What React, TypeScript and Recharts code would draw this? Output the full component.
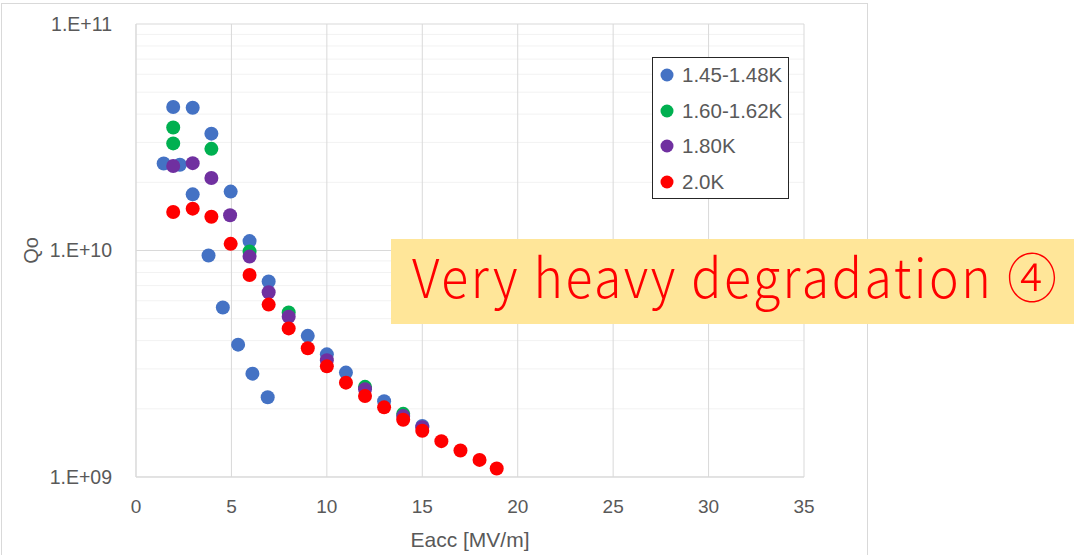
import React from 'react';
import { ScatterChart, Scatter, XAxis, YAxis, CartesianGrid, Label } from 'recharts';

const seriesNames = ['1.45-1.48K', '1.60-1.62K', '1.80K', '2.0K'];
const seriesColors = ['#4472C4', '#00B050', '#7030A0', '#FF0000'];

const eacc145 = [1.45, 1.95, 2.3, 2.97, 2.97, 3.8, 3.95, 4.55, 4.96, 5.35, 5.95, 6.1, 6.9, 6.95, 9.0, 10.0, 11.0, 13.0, 15.0];
const q145 = [2.42e10, 4.3e10, 2.39e10, 4.27e10, 1.77e10, 0.95e10, 3.28e10, 5.6e9, 1.82e10, 3.84e9, 1.1e10, 2.86e9, 2.25e9, 7.3e9, 4.2e9, 3.48e9, 2.89e9, 2.16e9, 1.68e9];

const eacc160 = [1.95, 1.95, 3.95, 5.95, 8.0, 12.0, 14.0];
const q160 = [3.49e10, 2.97e10, 2.81e10, 0.99e10, 5.33e9, 2.5e9, 1.9e9];

const eacc180 = [1.95, 2.97, 3.95, 4.93, 5.95, 6.95, 8.0, 10.0, 12.0, 14.0, 15.0];
const q180 = [2.36e10, 2.43e10, 2.09e10, 1.43e10, 0.94e10, 6.54e9, 5.1e9, 3.28e9, 2.44e9, 1.86e9, 1.66e9];

const eacc200 = [1.95, 2.97, 3.95, 4.96, 5.95, 6.95, 8.0, 9.0, 10.0, 11.0, 12.0, 13.0, 14.0, 15.0, 16.0, 17.0, 18.0, 18.9];
const q200 = [1.48e10, 1.53e10, 1.41e10, 1.07e10, 7.8e9, 5.77e9, 4.53e9, 3.7e9, 3.08e9, 2.61e9, 2.28e9, 2.03e9, 1.79e9, 1.6e9, 1.44e9, 1.31e9, 1.19e9, 1.09e9];

const xTicks = [0, 5, 10, 15, 20, 25, 30, 35];
const yMajorTicks = [1e9, 1e10, 1e11];
const yMinorTicks = [2e9, 3e9, 4e9, 5e9, 6e9, 7e9, 8e9, 9e9, 2e10, 3e10, 4e10, 5e10, 6e10, 7e10, 8e10, 9e10];
const yAllTicks = [1e9, 2e9, 3e9, 4e9, 5e9, 6e9, 7e9, 8e9, 9e9, 1e10, 2e10, 3e10, 4e10, 5e10, 6e10, 7e10, 8e10, 9e10, 1e11];

const xTitle = 'Eacc [MV/m]';
const yTitle = 'Qo';
const bannerText = 'Very heavy degradation ④';

const toPoints = (e: number[], q: number[]) => e.map((v, i) => ({ x: v, y: q[i] }));
const seriesData = [
  toPoints(eacc145, q145),
  toPoints(eacc160, q160),
  toPoints(eacc180, q180),
  toPoints(eacc200, q200),
];

const fmtY = (v: number) => {
  const lg = Math.log10(v);
  const r = Math.round(lg);
  if (Math.abs(lg - r) > 1e-6) return '';
  const s = r < 10 ? '0' + r : String(r);
  return '1.E+' + s;
};

const textColor = '#595959';
const font = '"Liberation Sans", Arial, sans-serif';

export default function App() {
  return (
    <div style={{ position: 'absolute', left: 0, top: 0, width: 1074, height: 555, background: '#fff', overflow: 'hidden', fontFamily: font }}>
      <div style={{ position: 'absolute', left: 1, top: 3, width: 867, height: 570, border: '1px solid #D9D9D9', boxSizing: 'border-box' }} />
      <div style={{ position: 'absolute', left: 0, top: 0 }}>
        <ScatterChart width={1074} height={555} margin={{ top: 24, right: 270, bottom: 48, left: 76 }} style={{ fontFamily: font }}>
          <CartesianGrid horizontal={true} vertical={false} horizontalValues={yMinorTicks} stroke="#F2F2F2" />
          <CartesianGrid horizontal={true} vertical={true} horizontalValues={yMajorTicks} verticalValues={xTicks} stroke="#D9D9D9" />
          <XAxis
            type="number"
            dataKey="x"
            domain={[0, 35]}
            ticks={xTicks}
            allowDataOverflow
            axisLine={{ stroke: '#D9D9D9' }}
            tickLine={false}
            tickSize={6}
            tickMargin={17}
            tick={{ fill: textColor, fontSize: 19, fontFamily: font }}
          >
            <Label value={xTitle} position="bottom" offset={25} style={{ fill: textColor, fontSize: 21, fontFamily: font }} />
          </XAxis>
          <YAxis
            type="number"
            dataKey="y"
            scale="log"
            domain={[1e9, 1e11]}
            ticks={yAllTicks}
            interval={0}
            allowDataOverflow
            tickFormatter={fmtY}
            axisLine={{ stroke: '#D9D9D9' }}
            tickLine={false}
            tickSize={8}
            tickMargin={16}
            tick={{ fill: textColor, fontSize: 19.5, fontFamily: font }}
          >
            <Label
              content={(props: any) => {
                const vb = props.viewBox || { x: 76, y: 24, width: 60, height: 453 };
                const cx = vb.x - 45;
                const cy = vb.y + vb.height / 2;
                return (
                  <text x={cx} y={cy} transform={`rotate(-90 ${cx} ${cy})`} textAnchor="middle" dominantBaseline="central" fill={textColor} fontSize={20} fontFamily={font}>
                    {yTitle}
                  </text>
                );
              }}
            />
          </YAxis>
          {seriesData.map((d, i) => (
            <Scatter
              key={seriesNames[i]}
              name={seriesNames[i]}
              data={d}
              fill={seriesColors[i]}
              isAnimationActive={false}
              shape={(p: any) => <circle cx={p.cx} cy={p.cy} r={7} fill={seriesColors[i]} />}
            />
          ))}
        </ScatterChart>
      </div>
      <div style={{ position: 'absolute', left: 652, top: 57, width: 137, height: 142, border: '1px solid #262626', background: '#fff', boxSizing: 'border-box', paddingTop: 0 }}>
        {seriesNames.map((n, i) => (
          <div key={n} style={{ position: 'absolute', left: 0, top: 17 + i * 35.5 - 12, height: 24, display: 'flex', alignItems: 'center' }}>
            <svg width={28} height={24} style={{ display: 'block' }}>
              <circle cx={14} cy={12} r={6.5} fill={seriesColors[i]} />
            </svg>
            <span style={{ fontSize: 20.5, color: textColor, fontFamily: font, marginLeft: 1, whiteSpace: 'nowrap', lineHeight: '24px' }}>{n}</span>
          </div>
        ))}
      </div>
      <div style={{ position: 'absolute', left: 391, top: 239, width: 683, height: 85, background: '#FFE699' }}>
        <div style={{ position: 'absolute', left: 21, top: 1, fontSize: 50, lineHeight: '68px', letterSpacing: '2.5px', color: '#FF0000', fontWeight: 300, fontFamily: '"Noto Sans CJK JP", "Noto Sans", sans-serif', whiteSpace: 'nowrap', transform: 'scaleY(1.07)', transformOrigin: 'left center' }}>
          {bannerText}
        </div>
      </div>
    </div>
  );
}
